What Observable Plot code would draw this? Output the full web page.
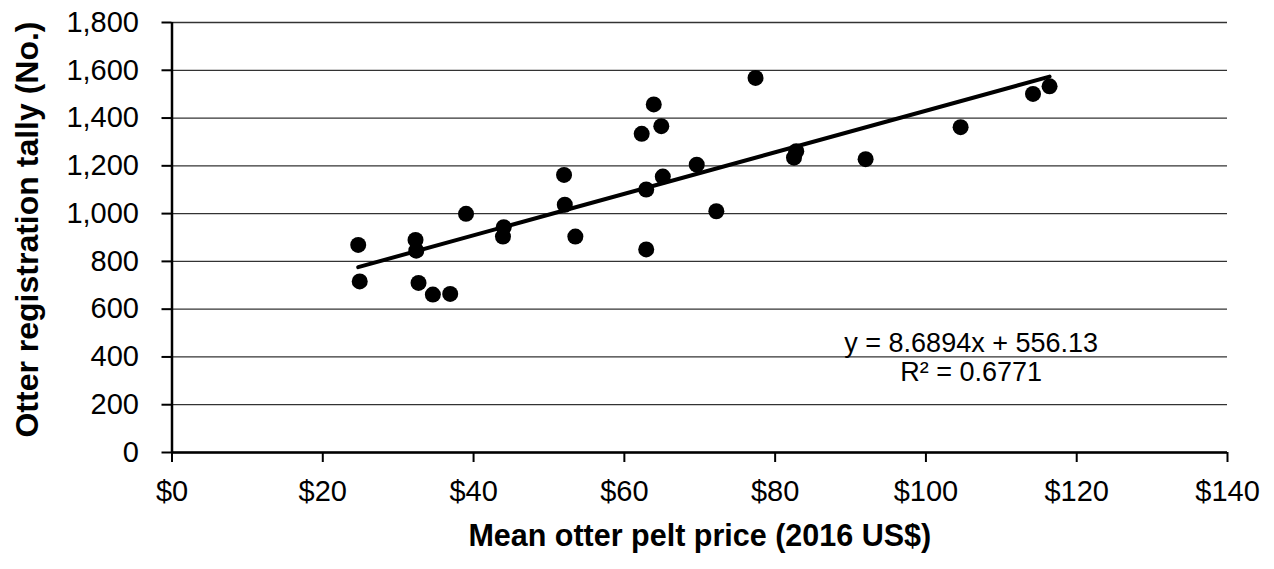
<!DOCTYPE html>
<html>
<head>
<meta charset="utf-8">
<script src="https://cdn.jsdelivr.net/npm/d3@7"></script>
<script src="https://cdn.jsdelivr.net/npm/@observablehq/plot@0.6"></script>
<style>
  html, body { margin: 0; padding: 0; background: #fff; }
  #chart svg { display: block; }
</style>
</head>
<body>
<div id="chart"></div>
<script>
// Mean otter pelt price (2016 US$)
const price = [24.7, 24.9, 32.3, 32.4, 32.7, 34.6, 36.9, 39.0, 44.0, 43.9, 52.0, 52.1, 53.5,
               77.4, 63.9, 64.9, 62.3, 69.6, 65.1, 62.9, 72.2, 62.9, 82.8, 82.5, 92.0,
               104.6, 114.2, 116.4];
// Otter registration tally (No.)
const tally = [869, 716, 890, 845, 710, 661, 664, 999, 943, 904, 1162, 1037, 904,
               1568, 1457, 1366, 1334, 1205, 1155, 1101, 1010, 850, 1261, 1234, 1228,
               1362, 1501, 1533];

const xTicks = [0, 20, 40, 60, 80, 100, 120, 140];
const yTicks = [0, 200, 400, 600, 800, 1000, 1200, 1400, 1600, 1800];

const xTitle = "Mean otter pelt price (2016 US$)";
const yTitle = "Otter registration tally (No.)";

const eqLines = ["y = 8.6894x + 556.13", "R² = 0.6771"];
const eqX = [106, 106];
const eqY = [458, 335];

const points = price.map((p, i) => ({price: p, tally: tally[i]}));
const eqData = eqLines.map((t, i) => ({text: t, x: eqX[i], y: eqY[i]}));

const chart = Plot.plot({
  width: 1274,
  height: 569,
  marginLeft: 171.5,
  marginRight: 47,
  marginTop: 22,
  marginBottom: 117,
  style: {fontFamily: "'Liberation Sans', Arial, sans-serif", background: "#fff", color: "#000"},
  x: {domain: [0, 140], label: null},
  y: {domain: [0, 1800], label: null},
  marks: [
    Plot.gridY(yTicks, {stroke: "#000", strokeOpacity: 0.8, strokeWidth: 1.3}),
    Plot.axisY(yTicks, {tickSize: 10, tickPadding: 23, fontSize: 29, strokeWidth: 2, tickFormat: d3.format(","), label: null}),
    Plot.axisX(xTicks, {tickSize: 10, tickPadding: 18, fontSize: 29, strokeWidth: 2, tickFormat: d => "$" + d, label: null}),
    Plot.ruleX([0], {strokeWidth: 2.5}),
    Plot.ruleY([0], {strokeWidth: 2.5}),
    Plot.dot(points, {x: "price", y: "tally", r: 8, fill: "#000", stroke: "none"}),
    Plot.linearRegressionY(points, {x: "price", y: "tally", ci: 0, stroke: "#000", strokeWidth: 4}),
    Plot.text(eqData, {x: "x", y: "y", text: "text", fontSize: 27, fill: "#000", textAnchor: "middle"}),
    Plot.text([xTitle], {frameAnchor: "bottom", dy: 93, fontSize: 30.5, fontWeight: "bold", fill: "#000", textAnchor: "middle"}),
    Plot.text([yTitle], {frameAnchor: "left", dx: -144, dy: -8, rotate: -90, fontSize: 32, fontWeight: "bold", fill: "#000", textAnchor: "middle"})
  ]
});
document.getElementById("chart").appendChild(chart);
</script>
</body>
</html>
